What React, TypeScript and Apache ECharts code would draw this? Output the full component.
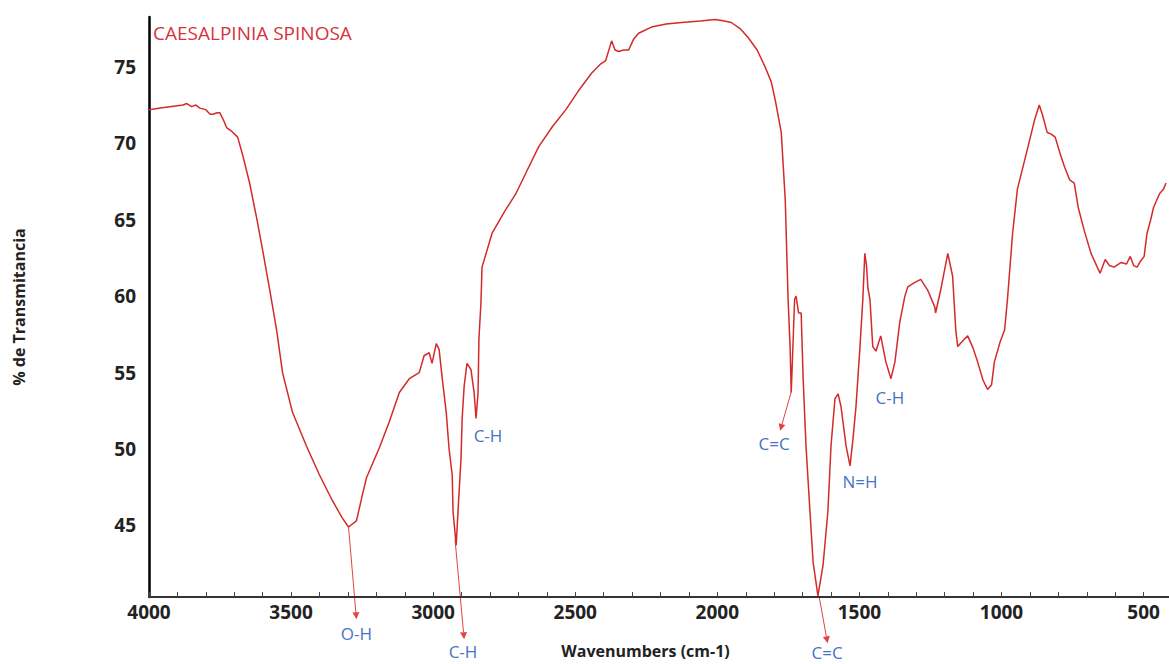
import React, { useEffect, useRef } from "react";
import * as echarts from "echarts";

// Wavenumber (cm-1)
const wavenumbers = [
  4000, 3960, 3920, 3880, 3867, 3850, 3835, 3821, 3800, 3785, 3775, 3760, 3751, 3740, 3726, 3710, 3688, 3670, 3646, 3620,
  3600, 3575, 3551, 3530, 3495, 3446, 3400, 3354, 3320, 3298, 3270, 3249, 3235, 3189, 3154, 3119, 3084, 3049, 3032, 3014,
  3004, 2989, 2979, 2968, 2954, 2944, 2933, 2930, 2919, 2912, 2902, 2898, 2891, 2881, 2867, 2856, 2849, 2842, 2839, 2832,
  2828, 2793, 2750, 2709, 2670, 2628, 2580, 2533, 2490, 2442, 2410, 2393, 2372, 2360, 2347, 2330, 2312, 2295, 2277, 2232,
  2180, 2126, 2060, 2007, 1975, 1951, 1920, 1891, 1860, 1832, 1810, 1796, 1775, 1761, 1751, 1744, 1740, 1734, 1728, 1723,
  1714, 1705, 1698, 1688, 1674, 1663, 1646, 1628, 1611, 1600, 1586, 1575, 1565, 1547, 1533, 1523, 1512, 1498, 1488, 1481,
  1475, 1470, 1463, 1453, 1442, 1425, 1407, 1389, 1375, 1358, 1340, 1330, 1305, 1284, 1260, 1235, 1232, 1214, 1189, 1172,
  1161, 1154, 1135, 1119, 1100, 1084, 1065, 1049, 1035, 1025, 1005, 989, 979, 961, 944, 909, 884, 867, 855, 839,
  825, 811, 795, 779, 760, 744, 730, 709, 685, 663, 653, 635, 620, 604, 580, 560, 547, 535, 523, 510,
  498, 488, 475, 465, 444, 430, 421,
];

// % Transmittance at each wavenumber above
const transmittance = [
  72.2, 72.3, 72.4, 72.5, 72.6, 72.4, 72.5, 72.3, 72.2, 71.9, 71.9, 72.0, 72.0, 71.6, 71.0, 70.8, 70.4, 69.2, 67.4, 65.0,
  63.0, 60.4, 57.8, 55.0, 52.4, 50.2, 48.3, 46.6, 45.5, 44.9, 45.3, 47.0, 48.1, 50.1, 51.8, 53.7, 54.6, 55.0, 56.1, 56.3,
  55.6, 56.9, 56.5, 54.6, 52.4, 50.0, 48.3, 45.9, 43.7, 46.1, 49.4, 52.0, 54.1, 55.6, 55.2, 53.7, 52.0, 53.7, 57.2, 59.5,
  61.9, 64.1, 65.5, 66.7, 68.2, 69.8, 71.1, 72.2, 73.4, 74.6, 75.2, 75.4, 76.7, 76.1, 76.0, 76.1, 76.1, 76.8, 77.2, 77.6,
  77.8, 77.9, 78.0, 78.1, 78.0, 77.9, 77.5, 76.9, 76.1, 75.0, 74.0, 72.8, 70.7, 66.3, 59.8, 56.7, 53.7, 56.7, 59.8, 60.0,
  58.9, 58.9, 54.6, 50.2, 45.9, 42.6, 40.4, 42.4, 45.9, 50.2, 53.3, 53.6, 52.8, 50.2, 48.9, 50.6, 52.8, 56.7, 59.8, 62.8,
  62.0, 60.5, 59.8, 56.7, 56.4, 57.4, 55.7, 54.6, 55.7, 58.3, 60.0, 60.6, 60.9, 61.1, 60.4, 59.3, 58.9, 60.4, 62.8, 61.3,
  57.8, 56.7, 57.1, 57.4, 56.6, 55.7, 54.5, 53.9, 54.2, 55.7, 57.0, 57.8, 59.8, 64.1, 67.0, 69.6, 71.5, 72.5, 71.8, 70.7,
  70.6, 70.4, 69.4, 68.5, 67.6, 67.4, 65.8, 64.3, 62.8, 61.9, 61.5, 62.4, 62.0, 61.9, 62.2, 62.1, 62.6, 62.0, 61.9, 62.3,
  62.6, 64.1, 65.0, 65.8, 66.7, 67.0, 67.4,
];

const xMin = 400;
const xMax = 4000;
const xTickStep = 100; // a tick every 100 cm-1
const xLabelStep = 500; // a label every 500 cm-1
const xTickValues = [
  4000, 3900, 3800, 3700, 3600, 3500, 3400, 3300, 3200, 3100, 3000, 2900, 2800, 2700, 2600, 2500, 2400, 2300, 2200, 2100,
  2000, 1900, 1800, 1700, 1600, 1500, 1400, 1300, 1200, 1100, 1000, 900, 800, 700, 600, 500,
];
const yMin = 40.32;
const yMax = 78.26;
const tickHeight = 0.3; // in %T units, for the small inside ticks on the x axis
const yTickLabels = [45, 50, 55, 60, 65, 70, 75];

// Annotations: label, label position [wavenumber, %T], optional arrow start / end
const annotationLabels = ["O-H", "C-H", "C-H", "C=C", "N=H", "C-H", "C=C"];
const annotationTextPos: [number, number][] = [
  [3270, 37.9],
  [2895, 36.75],
  [2807, 50.86],
  [1800, 50.34],
  [1498, 47.86],
  [1393, 53.4],
  [1614, 36.7],
];
const arrowStarts: ([number, number] | null)[] = [
  [3298, 44.93],
  [2923, 44.07],
  null,
  [1740, 53.73],
  null,
  null,
  [1642, 40.37],
];
const arrowEnds: ([number, number] | null)[] = [
  [3270, 38.87],
  [2891, 37.56],
  null,
  [1779, 51.19],
  null,
  null,
  [1612, 37.3],
];

export default function App() {
  const ref = useRef<HTMLDivElement>(null);

  useEffect(() => {
    document.body.style.margin = "0";
    document.body.style.overflow = "hidden";
    const chart = echarts.init(ref.current!, null, { renderer: "svg" });
    const data = wavenumbers.map((w, i) => [w, transmittance[i]]);
    const labelFont = '"Open Sans", sans-serif';

    chart.setOption({
      animation: false,
      backgroundColor: "#ffffff",
      grid: { left: 149, right: 0, top: 17, bottom: 65 },
      xAxis: {
        type: "value",
        inverse: true,
        min: xMin,
        max: xMax,
        interval: xTickStep,
        name: "Wavenumbers (cm-1)",
        nameLocation: "middle",
        nameGap: 46,
        nameTextStyle: {
          fontFamily: labelFont,
          fontWeight: "bold",
          fontSize: 16,
          color: "#222",
          padding: [0, 30, 0, 0],
        },
        axisLine: { onZero: false, lineStyle: { color: "#333", width: 2 } },
        axisTick: {
          show: true,
          inside: true,
          length: 5,
          lineStyle: { color: "#444", width: 1 },
        },
        axisLabel: {
          formatter: (v: number) => (v % xLabelStep === 0 ? String(v) : ""),
          showMinLabel: true,
          showMaxLabel: true,
          hideOverlap: false,
          margin: 5,
          fontFamily: labelFont,
          fontWeight: "bold",
          fontSize: 19,
          color: "#222",
        },
        splitLine: { show: false },
      },
      yAxis: {
        type: "value",
        min: yMin,
        max: yMax,
        position: "left",
        name: "% de Transmitancia",
        nameLocation: "middle",
        nameRotate: 90,
        nameGap: 122,
        nameTextStyle: {
          fontFamily: labelFont,
          fontWeight: "bold",
          fontSize: 16,
          color: "#222",
        },
        axisLine: { show: true, onZero: false, lineStyle: { color: "#000", width: 2.5 } },
        axisTick: { show: false },
        axisLabel: {
          customValues: yTickLabels,
          formatter: (v: number) => String(v),
          margin: 13,
          fontFamily: labelFont,
          fontWeight: "bold",
          fontSize: 19,
          color: "#222",
        },
        splitLine: { show: false },
      },
      series: [
        {
          type: "line",
          data,
          showSymbol: false,
          symbol: "none",
          lineStyle: { color: "#d42a2a", width: 1.5 },
          clip: true,
          markLine: {
            silent: true,
            symbol: "none",
            label: { show: false },
            emphasis: { disabled: true },
            lineStyle: { color: "#444", width: 1, type: "solid" },
            data: xTickValues.map((w) => [{ coord: [w, yMin] }, { coord: [w, yMin + tickHeight] }]),
          },
        },
      ],
    });

    const graphics: any[] = [
      {
        type: "text",
        x: 153,
        y: 33,
        style: {
          text: "CAESALPINIA SPINOSA",
          fill: "#d6333a",
          font: '19px "Open Sans", sans-serif',
          verticalAlign: "middle",
        },
      },
    ];

    annotationLabels.forEach((label, i) => {
      const tp = chart.convertToPixel({ gridIndex: 0 }, annotationTextPos[i]) as number[];
      graphics.push({
        type: "text",
        x: tp[0],
        y: tp[1],
        style: {
          text: label,
          fill: "#4a72c4",
          font: '17px "Open Sans", sans-serif',
          align: "center",
          verticalAlign: "middle",
        },
      });
      const s = arrowStarts[i];
      const e = arrowEnds[i];
      if (s && e) {
        const a = chart.convertToPixel({ gridIndex: 0 }, s) as number[];
        const b = chart.convertToPixel({ gridIndex: 0 }, e) as number[];
        const dx = b[0] - a[0];
        const dy = b[1] - a[1];
        const len = Math.sqrt(dx * dx + dy * dy) || 1;
        const ux = dx / len;
        const uy = dy / len;
        const headLen = 7;
        const half = 3.5;
        const bx = b[0] - ux * headLen;
        const by = b[1] - uy * headLen;
        graphics.push({
          type: "line",
          shape: { x1: a[0], y1: a[1], x2: bx, y2: by },
          style: { stroke: "#e0453f", lineWidth: 1 },
        });
        graphics.push({
          type: "polygon",
          shape: {
            points: [
              [b[0], b[1]],
              [bx - uy * half, by + ux * half],
              [bx + uy * half, by - ux * half],
            ],
          },
          style: { fill: "#e0453f" },
        });
      }
    });

    chart.setOption({ graphic: graphics });

    return () => chart.dispose();
  }, []);

  // 1175 px wide so that 400 cm-1 falls just past the 1169 px window edge, as in the reference
  return <div ref={ref} style={{ width: 1175, height: 664 }} />;
}
